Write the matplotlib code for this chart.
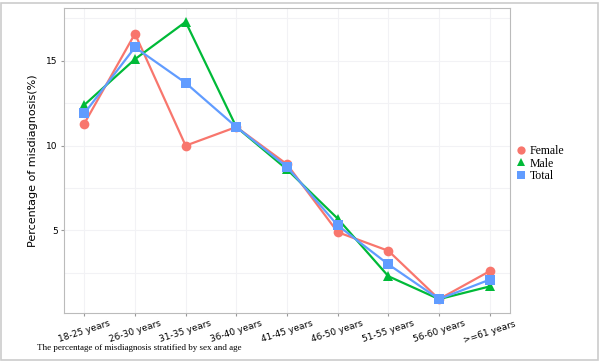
import matplotlib
matplotlib.use("Agg")
import matplotlib.pyplot as plt
from matplotlib.patches import Rectangle

age_groups = ["18-25 years", "26-30 years", "31-35 years", "36-40 years", "41-45 years",
              "46-50 years", "51-55 years", "56-60 years", ">=61 years"]
female = [11.3, 16.6, 10.0, 11.1, 8.9, 4.9, 3.8, 0.95, 2.6]
male = [12.4, 15.1, 17.3, 11.1, 8.6, 5.7, 2.3, 0.95, 1.7]
total = [11.9, 15.8, 13.7, 11.1, 8.75, 5.3, 3.0, 0.95, 2.1]
y_ticks = [5, 10, 15]
y_minor = [2.5, 7.5, 12.5, 17.5]

series = [("Female", female, "#F8766D", "o"),
          ("Male", male, "#00BA38", "^"),
          ("Total", total, "#619CFF", "s")]

fig = plt.figure(figsize=(6, 3.61), dpi=100)
ax = fig.add_axes([64 / 600, 48 / 361, 446 / 600, 305 / 361])

x = list(range(len(age_groups)))
for name, vals, color, marker in series:
    ax.plot(x, vals, color=color, lw=1.6, marker=marker, markersize=7,
            markeredgewidth=0, label=name, zorder=3)

# ggplot-style limits
lo = min(min(female), min(male), min(total))
hi = max(max(female), max(male), max(total))
pad = (hi - lo) * 0.05
ax.set_ylim(lo - pad, hi + pad)
ax.set_xlim(-0.4, len(age_groups) - 0.6)

ax.set_xticks(x)
ax.set_xticklabels(age_groups, rotation=18, ha="center", fontsize=6.5, family="DejaVu Sans")
ax.set_yticks(y_ticks)
ax.set_yticks(y_minor, minor=True)
ax.tick_params(axis="y", which="minor", length=0)
ax.tick_params(axis="both", which="major", length=2.5, color="#999999", labelsize=6.5, pad=2)
ax.grid(True, which="both", color="#F2F2F5", lw=0.8, zorder=0)
for sp in ax.spines.values():
    sp.set_color("#BBBBBB")
    sp.set_linewidth(0.8)

ax.set_ylabel("Percentage of misdiagnosis(%)", fontsize=8, labelpad=6)

leg = ax.legend(loc="center left", bbox_to_anchor=(1.0, 0.49), frameon=False,
                prop={"family": "Liberation Serif", "size": 8.5}, handlelength=0.8,
                handletextpad=0.4, labelspacing=0.05, borderaxespad=0.1, markerscale=0.85)
for h in leg.legend_handles:
    h.set_linestyle("none")

fig.text(37 / 600, 1 - 348 / 361, "The percentage of misdiagnosis stratified by sex and age",
         family="Liberation Serif", fontsize=6.5, va="center", ha="left")

fig.patches.append(Rectangle((1 / 600, 1 / 361), 597 / 600, 357 / 361, transform=fig.transFigure,
                             fill=False, edgecolor="#CCCCCC", lw=1.2))

fig.savefig("out.png", dpi=100)
